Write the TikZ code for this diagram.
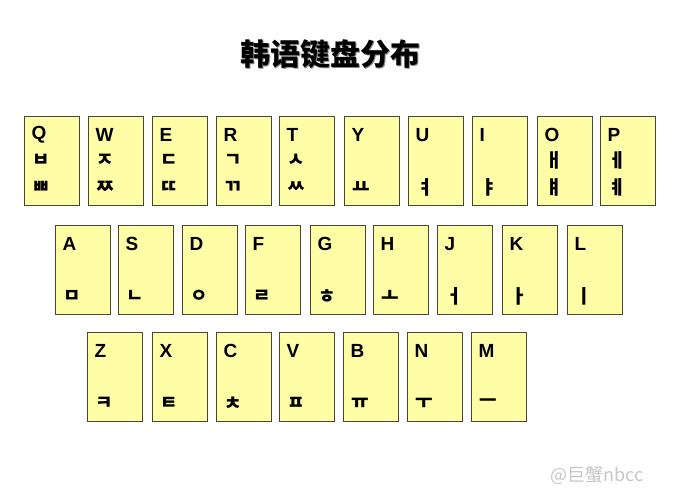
\documentclass[tikz,border=0pt]{standalone}
\usepackage{fontspec}
\setmainfont{Liberation Sans}
\newfontfamily\keyfont{Liberation Sans Bold}
\newfontfamily\cjksc{Noto Sans CJK SC}
\newfontfamily\cjkkr{Noto Sans CJK KR}
\definecolor{keyfill}{RGB}{255,253,165}
\definecolor{keyedge}{RGB}{70,70,60}
\tikzset{
  keybox/.style={draw=keyedge, line width=0.9pt, fill=keyfill, anchor=north west,
    minimum width=55pt, minimum height=89pt, inner sep=0pt, outer sep=0pt},
  keyletter/.style={anchor=west, inner sep=0pt, font=\keyfont\fontsize{19}{19}\selectfont},
  jamo/.style={anchor=center, inner sep=0pt, font=\cjkkr\bfseries\fontsize{19}{19}\selectfont},
}
\newcommand\kbkey[5]{%
  \node[keybox] (key#3) at (#1,#2) {};
  \node[keyletter] (let#3) at ([xshift=7.5pt,yshift=-19pt]key#3.north west) {#3};
  \node[jamo] (mid#3) at ([xshift=17pt,yshift=-44.5pt]key#3.north west) {#4};
  \node[jamo] (low#3) at ([xshift=17pt,yshift=-71.5pt]key#3.north west) {#5};
}
\begin{document}
\begin{tikzpicture}[x=1pt,y=-1pt]
\useasboundingbox[fill=white] (0,0) rectangle (679,500);
\node[font=\cjksc\bfseries\fontsize{30}{30}\selectfont, text=black!45, inner sep=0pt] (titleshadow) at (331.5,55.5) {韩语键盘分布};
\node[font=\cjksc\bfseries\fontsize{30}{30}\selectfont, inner sep=0pt] (title) at (330,54) {韩语键盘分布};
% row 1
\kbkey{24}{116}{Q}{ㅂ}{ㅃ}
\kbkey{88}{116}{W}{ㅈ}{ㅉ}
\kbkey{152}{116}{E}{ㄷ}{ㄸ}
\kbkey{216}{116}{R}{ㄱ}{ㄲ}
\kbkey{279}{116}{T}{ㅅ}{ㅆ}
\kbkey{344}{116}{Y}{}{ㅛ}
\kbkey{408}{116}{U}{}{ㅕ}
\kbkey{472}{116}{I}{}{ㅑ}
\kbkey{537}{116}{O}{ㅐ}{ㅒ}
\kbkey{600}{116}{P}{ㅔ}{ㅖ}
% row 2
\kbkey{55}{225}{A}{}{ㅁ}
\kbkey{118}{225}{S}{}{ㄴ}
\kbkey{182}{225}{D}{}{ㅇ}
\kbkey{245}{225}{F}{}{ㄹ}
\kbkey{310}{225}{G}{}{ㅎ}
\kbkey{373}{225}{H}{}{ㅗ}
\kbkey{437}{225}{J}{}{ㅓ}
\kbkey{502}{225}{K}{}{ㅏ}
\kbkey{567}{225}{L}{}{ㅣ}
% row 3
\kbkey{87}{332}{Z}{}{ㅋ}
\kbkey{152}{332}{X}{}{ㅌ}
\kbkey{216}{332}{C}{}{ㅊ}
\kbkey{279}{332}{V}{}{ㅍ}
\kbkey{343}{332}{B}{}{ㅠ}
\kbkey{407}{332}{N}{}{ㅜ}
\kbkey{471}{332}{M}{}{ㅡ}
% watermark
\node[font=\cjksc\fontsize{18}{18}\selectfont, text=black!22, anchor=west, inner sep=0pt] (wm) at (550,475) {@巨蟹nbcc};
\end{tikzpicture}
\end{document}
